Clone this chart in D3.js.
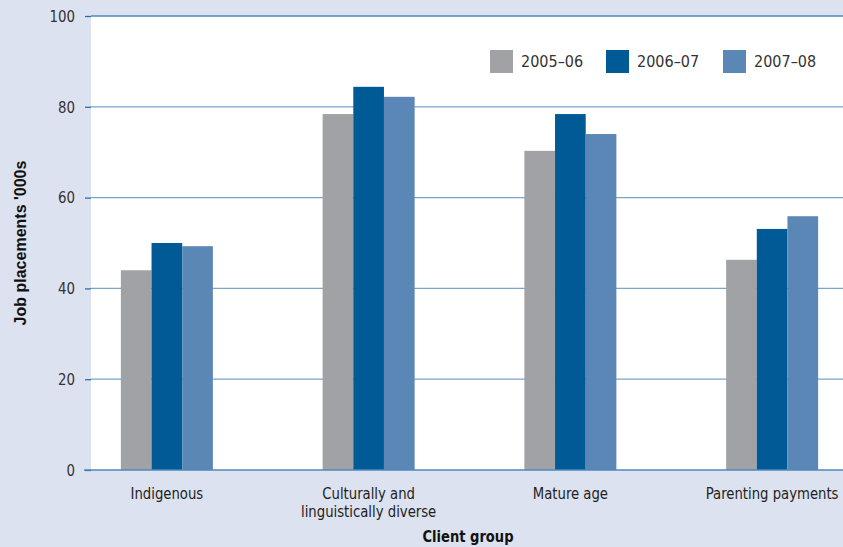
<!DOCTYPE html>
<html><head><meta charset="utf-8">
<script src="https://cdn.jsdelivr.net/npm/d3@7"></script>
<style>
body{margin:0;background:#dce2ef;}
svg{display:block;}
.cond{font-family:"Liberation Sans Narrow","DejaVu Sans Condensed","Arial Narrow",sans-serif;}
</style></head>
<body><svg id="c" width="843" height="547"></svg>
<script>
const categories = [["Indigenous"],["Culturally and","linguistically diverse"],["Mature age"],["Parenting payments"]];
const categoryKeys = ["Indigenous","Culturally and linguistically diverse","Mature age","Parenting payments"];
const seriesNames = ["2005–06","2006–07","2007–08"];
const values2005 = [44.0, 78.4, 70.3, 46.3];
const values2006 = [50.0, 84.4, 78.4, 53.1];
const values2007 = [49.3, 82.2, 74.0, 55.9];
const seriesValues = [values2005, values2006, values2007];
const colors = ["#a1a2a5","#005a96","#5b87b7"];
const yTicks = [0,20,40,60,80,100];

const svg = d3.select("#c");
const pLeft = 91, pRight = 843, pTop = 16, pBottom = 470;
const SX = 0.92; // horizontal condensing of labels

svg.append("rect").attr("width",843).attr("height",547).attr("fill","#dce2ef");
svg.append("rect").attr("x",pLeft).attr("y",pTop).attr("width",pRight-pLeft).attr("height",pBottom-pTop).attr("fill","#ffffff");

const y = d3.scaleLinear().domain([0,100]).range([pBottom, pTop]);
const x0 = d3.scaleBand().domain(categoryKeys).range([66, 873]).paddingInner(0.544).paddingOuter(0.272);
const x1 = d3.scaleBand().domain(seriesNames).range([0, x0.bandwidth()]).padding(0);

// gridlines
svg.append("g").selectAll("line").data(yTicks.filter(d=>d>0)).join("line")
  .attr("x1",pLeft).attr("x2",pRight).attr("y1",d=>y(d)).attr("y2",d=>y(d))
  .attr("stroke",d=>d===100?"#4f89bd":"#79a6cb").attr("stroke-width",1.3);

// bars
const g = svg.append("g");
categoryKeys.forEach((c,i)=>{
  seriesNames.forEach((s,j)=>{
    const v = seriesValues[j][i];
    g.append("rect").attr("x",x0(c)+x1(s)).attr("y",y(v))
      .attr("width",x1.bandwidth()).attr("height",y(0)-y(v)).attr("fill",colors[j]);
  });
});

// y axis
const ya = svg.append("g").attr("transform",`translate(${pLeft},0)`)
  .call(d3.axisLeft(y).tickValues(yTicks).tickSize(6).tickPadding(10));
ya.select(".domain").remove();
ya.selectAll(".tick line").attr("stroke","#2f6ea8").attr("stroke-width",1.3);
ya.selectAll(".tick text").attr("class","cond").attr("font-size",16.5).attr("fill","#333")
  .attr("x",-16/0.9).attr("transform","scale(0.9,1)");

// zero line
svg.append("line").attr("x1",84).attr("x2",pRight).attr("y1",y(0)).attr("y2",y(0))
  .attr("stroke","#4f89bd").attr("stroke-width",1.5);

// x labels
categoryKeys.forEach((c,i)=>{
  const cx = x0(c)+x0.bandwidth()/2;
  const t = svg.append("text").attr("class","cond").attr("text-anchor","middle")
    .attr("font-size",16).attr("fill","#222")
    .attr("transform",`translate(${cx},0) scale(${SX},1)`);
  categories[i].forEach((line,k)=>{
    t.append("tspan").attr("x",0).attr("y",499+k*18).text(line);
  });
});

svg.append("text").attr("class","cond").attr("transform",`translate(468,542) scale(0.91,1)`)
  .attr("text-anchor","middle").attr("font-size",16).attr("font-weight","bold").attr("fill","#111")
  .text("Client group");

svg.append("text").attr("transform",`translate(25.5,${(pTop+pBottom)/2}) rotate(-90)`)
  .attr("text-anchor","middle").attr("font-family","Liberation Sans, Arial, sans-serif")
  .attr("font-size",16).attr("font-weight","bold").attr("fill","#111")
  .text("Job placements '000s");

// legend
const legX = [490, 606, 723];
seriesNames.forEach((s,j)=>{
  svg.append("rect").attr("x",legX[j]).attr("y",50).attr("width",23).attr("height",23).attr("fill",colors[j]);
  svg.append("text").attr("class","cond").attr("x",legX[j]+31).attr("y",67)
    .attr("font-size",16).attr("fill","#333").text(s);
});
</script></body></html>
